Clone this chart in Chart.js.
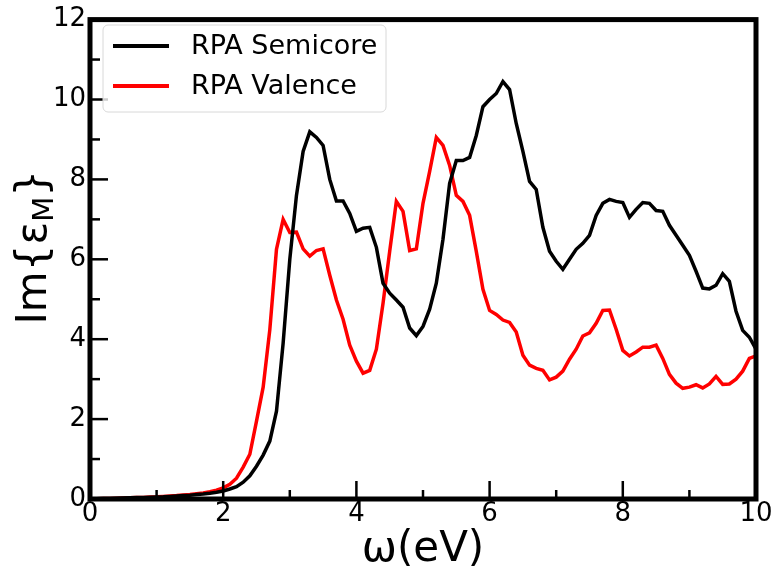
<!DOCTYPE html>
<html>
<head>
<meta charset="utf-8">
<script src="https://cdn.jsdelivr.net/npm/chart.js@4.4.1/dist/chart.umd.min.js"></script>
<style>
  html, body { margin: 0; padding: 0; background: #fff; }
  .chart { width: 775px; height: 576px; }
</style>
</head>
<body>
<div class="chart"><canvas class="chart__item"></canvas></div>
<script>
// photon energy in eV
const energy = [
  0.0, 0.1, 0.2, 0.3, 0.4, 0.5, 0.6, 0.7, 0.8, 0.9,
  1.0, 1.1, 1.2, 1.3, 1.4, 1.5, 1.6, 1.7, 1.8, 1.9,
  2.0, 2.1, 2.2, 2.3, 2.4, 2.5, 2.6, 2.7, 2.8, 2.9,
  3.0, 3.1, 3.2, 3.3, 3.4, 3.5, 3.6, 3.7, 3.8, 3.9,
  4.0, 4.1, 4.2, 4.3, 4.4, 4.5, 4.6, 4.7, 4.8, 4.9,
  5.0, 5.1, 5.2, 5.3, 5.4, 5.5, 5.6, 5.7, 5.8, 5.9,
  6.0, 6.1, 6.2, 6.3, 6.4, 6.5, 6.6, 6.7, 6.8, 6.9,
  7.0, 7.1, 7.2, 7.3, 7.4, 7.5, 7.6, 7.7, 7.8, 7.9,
  8.0, 8.1, 8.2, 8.3, 8.4, 8.5, 8.6, 8.7, 8.8, 8.9,
  9.0, 9.1, 9.2, 9.3, 9.4, 9.5, 9.6, 9.7, 9.8, 9.9,
  10.0
]

const semicore = [
  0, 0.005, 0.01, 0.015, 0.02, 0.025, 0.03, 0.035, 0.04, 0.045,
  0.05, 0.055, 0.065, 0.075, 0.085, 0.095, 0.11, 0.125, 0.145, 0.17,
  0.2, 0.25, 0.31, 0.42, 0.58, 0.82, 1.1, 1.45, 2.2, 3.9,
  6.0, 7.6, 8.7, 9.19, 9.05, 8.85, 8.0, 7.46, 7.46, 7.15,
  6.7, 6.78, 6.8, 6.3, 5.4, 5.15, 4.98, 4.8, 4.28, 4.09,
  4.32, 4.75, 5.4, 6.5, 7.9, 8.47, 8.47, 8.55, 9.1, 9.82,
  10.0, 10.15, 10.45, 10.25, 9.4, 8.7, 7.95, 7.75, 6.8, 6.2,
  5.95, 5.75, 6.0, 6.25, 6.4, 6.6, 7.1, 7.4, 7.5, 7.45,
  7.42, 7.05, 7.25, 7.42, 7.4, 7.22, 7.2, 6.85, 6.6, 6.35,
  6.1, 5.7, 5.28, 5.26, 5.35, 5.64, 5.45, 4.7, 4.22, 4.05,
  3.75
]

const valence = [
  0, 0.005, 0.01, 0.015, 0.02, 0.025, 0.03, 0.035, 0.04, 0.05,
  0.055, 0.065, 0.075, 0.085, 0.1, 0.11, 0.13, 0.15, 0.18, 0.22,
  0.28, 0.37, 0.52, 0.8, 1.12, 1.95, 2.8, 4.24, 6.25, 7.0,
  6.67, 6.68, 6.26, 6.08, 6.22, 6.26, 5.6, 4.98, 4.5, 3.85,
  3.45, 3.15, 3.22, 3.75, 4.9, 6.2, 7.45, 7.2, 6.22, 6.26,
  7.4, 8.2, 9.05, 8.85, 8.35, 7.6, 7.45, 7.1, 6.2, 5.25,
  4.72, 4.62, 4.48, 4.42, 4.18, 3.6, 3.35, 3.27, 3.22, 2.98,
  3.05, 3.2, 3.5, 3.75, 4.08, 4.16, 4.4, 4.72, 4.73, 4.25,
  3.72, 3.58, 3.68, 3.8, 3.8, 3.85, 3.52, 3.12, 2.9, 2.77,
  2.8, 2.86, 2.78, 2.88, 3.07, 2.87, 2.88, 3.0, 3.2, 3.52,
  3.58
]

const seriesNames = ['RPA Semicore', 'RPA Valence']
const seriesColors = ['#000000', '#ff0000']

const FONT = 'DejaVu Sans'
Chart.defaults.font.family = FONT
Chart.defaults.color = '#000'

function toPoints(values) {
  return values.map((v, i) => ({ x: energy[i], y: v }))
}

// frame with inward ticks, axis titles and the boxed legend
const decor = {
  id: 'decor',
  afterDatasetsDraw(chart) {
    const ctx = chart.ctx
    const a = chart.chartArea
    const xs = chart.scales.x
    const ys = chart.scales.y
    ctx.save()
    ctx.strokeStyle = '#000'
    ctx.lineWidth = 2.5
    for (let v = xs.min; v <= xs.max; v++) {
      const px = xs.getPixelForValue(v)
      const len = v % 2 ? 9 : 18
      ctx.beginPath()
      ctx.moveTo(px, a.bottom)
      ctx.lineTo(px, a.bottom - len)
      ctx.stroke()
    }
    for (let v = ys.min; v <= ys.max; v++) {
      const py = ys.getPixelForValue(v)
      const len = v % 2 ? 10 : 18
      ctx.beginPath()
      ctx.moveTo(a.left, py)
      ctx.lineTo(a.left + len, py)
      ctx.stroke()
    }
    ctx.lineWidth = 5
    ctx.strokeRect(a.left, a.top, a.right - a.left, a.bottom - a.top)

    // x title
    ctx.fillStyle = '#000'
    ctx.font = '42px "' + FONT + '"'
    ctx.textAlign = 'center'
    ctx.textBaseline = 'alphabetic'
    ctx.fillText('ω(eV)', (a.left + a.right) / 2, 561)

    // y title with subscript M
    const big = '42px "' + FONT + '"'
    const small = '29px "' + FONT + '"'
    ctx.font = big
    const w1 = ctx.measureText('Im{ε').width
    const w3 = ctx.measureText('}').width
    ctx.font = small
    const w2 = ctx.measureText('M').width
    const total = w1 + w2 + w3
    ctx.translate(46, (a.top + a.bottom) / 2 - 12)
    ctx.rotate(-Math.PI / 2)
    ctx.textAlign = 'left'
    ctx.font = big
    ctx.fillText('Im{ε', -total / 2, 0)
    ctx.font = small
    ctx.fillText('M', -total / 2 + w1, 7)
    ctx.font = big
    ctx.fillText('}', -total / 2 + w1 + w2, 0)
    ctx.restore()

    // legend
    ctx.save()
    const bx = 103, by = 25, bw = 283, bh = 87
    ctx.fillStyle = 'rgba(255,255,255,0.8)'
    ctx.strokeStyle = '#d8d8d8'
    ctx.lineWidth = 1
    ctx.beginPath()
    ctx.roundRect(bx, by, bw, bh, 5)
    ctx.fill()
    ctx.stroke()
    ctx.font = '27px "' + FONT + '"'
    ctx.textAlign = 'left'
    ctx.textBaseline = 'middle'
    chart.data.datasets.forEach((ds, i) => {
      const ly = 46 + i * 40
      ctx.strokeStyle = ds.borderColor
      ctx.lineWidth = 4
      ctx.beginPath()
      ctx.moveTo(113, ly)
      ctx.lineTo(169, ly)
      ctx.stroke()
      ctx.fillStyle = '#000'
      ctx.fillText(ds.label, 191, ly + 1)
    })
    ctx.restore()
  },
}

var ctx = document.querySelector('.chart__item').getContext('2d')

var myChart = new Chart(ctx, {
  type: 'line',
  data: {
    datasets: [
      {
        label: seriesNames[0],
        data: toPoints(semicore),
        borderColor: seriesColors[0],
        borderWidth: 3.5,
        pointRadius: 0,
        tension: 0,
      },
      {
        label: seriesNames[1],
        data: toPoints(valence),
        borderColor: seriesColors[1],
        borderWidth: 3.5,
        pointRadius: 0,
        tension: 0,
      },
    ],
  },
  options: {
    animation: false,
    responsive: true,
    maintainAspectRatio: false,
    devicePixelRatio: 1,
    layout: {
      padding: { left: 0, right: 19, top: 12, bottom: 0 },
    },
    plugins: {
      legend: { display: false },
      tooltip: { enabled: false },
    },
    scales: {
      x: {
        type: 'linear',
        min: 0,
        max: 10,
        grid: { display: false, drawTicks: false },
        border: { display: false },
        ticks: {
          stepSize: 2,
          padding: 0,
          autoSkip: false,
          maxRotation: 0,
          font: { size: 26 },
          color: '#000',
        },
        afterFit(scale) {
          scale.height = 77
        },
      },
      y: {
        type: 'linear',
        min: 0,
        max: 12,
        grid: { display: false, drawTicks: false },
        border: { display: false },
        ticks: {
          stepSize: 2,
          padding: 4,
          font: { size: 26 },
          color: '#000',
        },
        afterFit(scale) {
          scale.width = 90
        },
      },
    },
  },
  plugins: [decor],
})
</script>
</body>
</html>
